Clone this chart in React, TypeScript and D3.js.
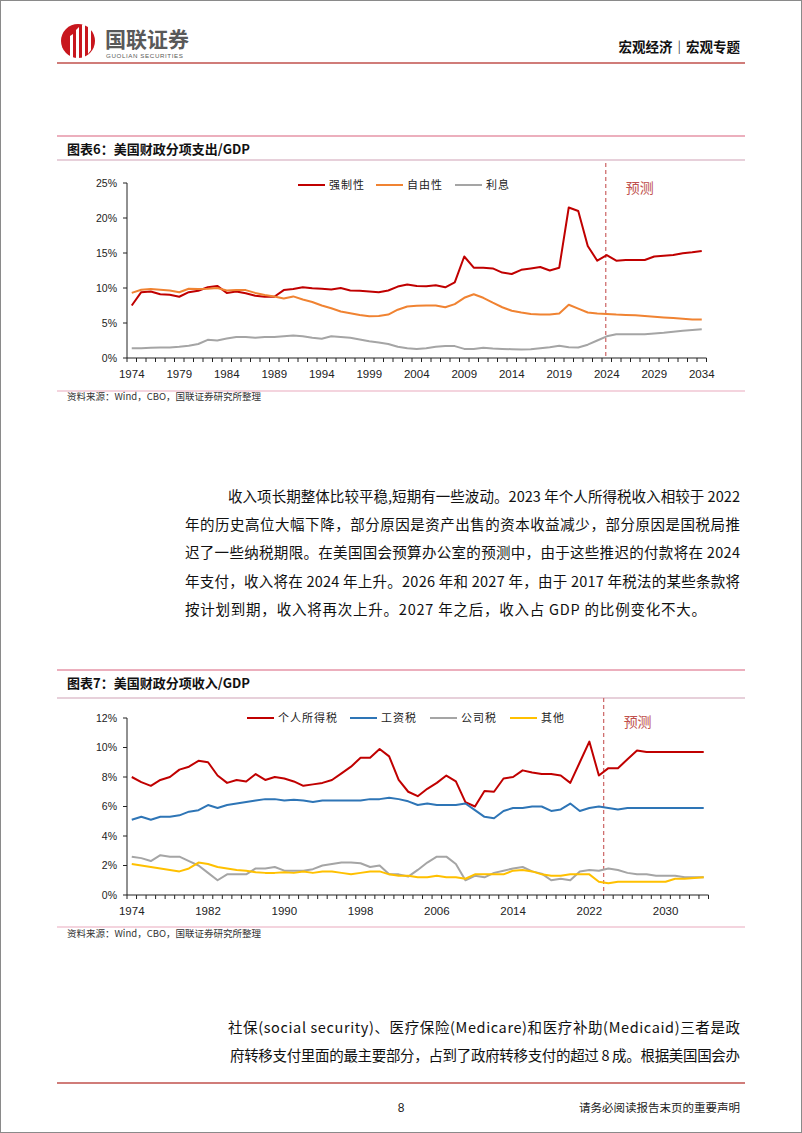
import React from 'react';
import * as d3 from 'd3';

// ---------- data ----------
const years: number[] = d3.range(1974, 2035);

// 图表6 美国财政分项支出/GDP (%)
const mandatory = [
  7.5, 9.4, 9.5, 9.1, 9.05, 8.75, 9.4, 9.6, 10.1, 10.3,
  9.3, 9.5, 9.25, 8.9, 8.75, 8.75, 9.7, 9.85, 10.1, 9.95,
  9.9, 9.8, 10.0, 9.65, 9.6, 9.5, 9.4, 9.65, 10.2, 10.5,
  10.3, 10.25, 10.4, 10.1, 10.8, 14.5, 12.9, 12.9, 12.8, 12.2,
  12.0, 12.6, 12.8, 13.0, 12.5, 12.9, 21.5, 21.0, 16.0, 13.9,
  14.7, 13.9, 14.0, 14.0, 14.0, 14.5, 14.6, 14.7, 14.95, 15.1,
  15.3,
];
const discretionary = [
  9.3, 9.75, 9.85, 9.75, 9.65, 9.4, 9.9, 9.85, 9.9, 10.0,
  9.65, 9.7, 9.7, 9.3, 9.0, 8.8, 8.5, 8.8, 8.35, 8.0,
  7.5, 7.1, 6.65, 6.4, 6.15, 5.95, 6.0, 6.2, 6.9, 7.35,
  7.45, 7.5, 7.5, 7.25, 7.7, 8.6, 9.1, 8.6, 7.9, 7.25,
  6.75, 6.5, 6.3, 6.2, 6.2, 6.35, 7.6, 7.05, 6.5, 6.35,
  6.3, 6.2, 6.15, 6.1, 6.0, 5.9, 5.8, 5.7, 5.6, 5.5,
  5.5,
];
const interest = [
  1.4, 1.4, 1.45, 1.5, 1.5, 1.6, 1.75, 2.0, 2.6, 2.5,
  2.8, 3.0, 3.0, 2.9, 3.0, 3.0, 3.1, 3.2, 3.1, 2.9,
  2.75, 3.1, 3.0, 2.9, 2.65, 2.4, 2.2, 2.0, 1.6, 1.4,
  1.3, 1.4, 1.6, 1.7, 1.7, 1.3, 1.3, 1.45, 1.35, 1.3,
  1.25, 1.2, 1.25, 1.4, 1.55, 1.75, 1.55, 1.5, 1.9, 2.5,
  3.1, 3.4, 3.4, 3.4, 3.4, 3.5, 3.6, 3.75, 3.9, 4.0,
  4.1,
];

// 图表7 美国财政分项收入/GDP (%)
const individualTax = [
  8.0, 7.65, 7.4, 7.8, 8.0, 8.5, 8.7, 9.1, 9.0, 8.1,
  7.6, 7.8, 7.7, 8.2, 7.8, 8.0, 7.9, 7.7, 7.4, 7.5,
  7.6, 7.8, 8.25, 8.7, 9.3, 9.3, 9.9, 9.4, 7.8, 7.0,
  6.7, 7.2, 7.6, 8.1, 7.7, 6.3, 6.0, 7.05, 7.0, 7.9,
  8.0, 8.45, 8.3, 8.2, 8.2, 8.1, 7.6, 9.0, 10.4, 8.1,
  8.6, 8.6, 9.2, 9.8, 9.7, 9.7, 9.7, 9.7, 9.7, 9.7,
  9.7,
];
const payrollTax = [
  5.1, 5.3, 5.1, 5.3, 5.3, 5.4, 5.65, 5.75, 6.1, 5.9,
  6.1, 6.2, 6.3, 6.4, 6.5, 6.5, 6.4, 6.45, 6.4, 6.3,
  6.4, 6.4, 6.4, 6.4, 6.4, 6.5, 6.5, 6.6, 6.5, 6.35,
  6.1, 6.2, 6.1, 6.1, 6.1, 6.2, 5.75, 5.3, 5.2, 5.7,
  5.9, 5.9, 6.0, 6.0, 5.7, 5.8, 6.2, 5.7, 5.9, 6.0,
  5.9, 5.8, 5.9, 5.9, 5.9, 5.9, 5.9, 5.9, 5.9, 5.9,
  5.9,
];
const corporateTax = [
  2.6, 2.5, 2.3, 2.7, 2.6, 2.6, 2.3, 2.0, 1.5, 1.0,
  1.4, 1.4, 1.4, 1.8, 1.8, 1.9, 1.65, 1.65, 1.65, 1.75,
  2.0, 2.1, 2.2, 2.2, 2.15, 1.9, 2.0, 1.4, 1.4, 1.25,
  1.7, 2.2, 2.6, 2.6, 2.1, 1.0, 1.3, 1.2, 1.5, 1.65,
  1.8, 1.9, 1.6, 1.45, 1.0, 1.1, 1.0, 1.6, 1.7, 1.65,
  1.8, 1.7, 1.5, 1.4, 1.4, 1.3, 1.3, 1.3, 1.2, 1.2,
  1.2,
];
const otherRevenue = [
  2.1, 2.0, 1.9, 1.8, 1.7, 1.6, 1.8, 2.2, 2.1, 1.9,
  1.8, 1.7, 1.65, 1.55, 1.5, 1.5, 1.55, 1.5, 1.6, 1.5,
  1.6, 1.6, 1.5, 1.4, 1.5, 1.6, 1.6, 1.4, 1.3, 1.3,
  1.2, 1.2, 1.3, 1.2, 1.2, 1.1, 1.4, 1.4, 1.4, 1.4,
  1.65, 1.7, 1.6, 1.4, 1.3, 1.3, 1.4, 1.4, 1.4, 0.9,
  0.8, 0.9, 0.9, 0.9, 0.9, 0.9, 0.9, 1.1, 1.1, 1.15,
  1.2,
];

const chart1Ticks = [0, 5, 10, 15, 20, 25];
const chart1XLabels = [1974, 1979, 1984, 1989, 1994, 1999, 2004, 2009, 2014, 2019, 2024, 2029, 2034];
const chart2Ticks = [0, 2, 4, 6, 8, 10, 12];
const chart2XLabels = [1974, 1982, 1990, 1998, 2006, 2014, 2022, 2030];

const series1 = [
  { name: '强制性', values: mandatory, color: '#c00000' },
  { name: '自由性', values: discretionary, color: '#f08332' },
  { name: '利息', values: interest, color: '#a5a5a5' },
];
const series2 = [
  { name: '个人所得税', values: individualTax, color: '#c00000' },
  { name: '工资税', values: payrollTax, color: '#2e75b6' },
  { name: '公司税', values: corporateTax, color: '#a5a5a5' },
  { name: '其他', values: otherRevenue, color: '#ffc000' },
];

const para1 = [
  '收入项长期整体比较平稳,短期有一些波动。2023 年个人所得税收入相较于 2022',
  '年的历史高位大幅下降，部分原因是资产出售的资本收益减少，部分原因是国税局推',
  '迟了一些纳税期限。在美国国会预算办公室的预测中，由于这些推迟的付款将在 2024',
  '年支付，收入将在 2024 年上升。2026 年和 2027 年，由于 2017 年税法的某些条款将',
  '按计划到期，收入将再次上升。2027 年之后，收入占 GDP 的比例变化不大。',
];
const para2 = [
  '社保(social security)、医疗保险(Medicare)和医疗补助(Medicaid)三者是政',
  '府转移支付里面的最主要部分，占到了政府转移支付的超过 8 成。根据美国国会办',
];

const CJK = '"Noto Sans CJK SC", "Noto Sans", sans-serif';
const NUM = '"Liberation Sans", Arial, sans-serif';

type Series = { name: string; values: number[]; color: string };

function LineChart(props: {
  top: number; title: string; series: Series[]; yMax: number; yTicks: number[];
  yTop: number; yBottom: number; xRight: number; xLabels: number[];
  legendX: number[]; legendY: number; forecastX: number; forecastTextY: number;
  dashTop: number; titleLineY: number; bottomLineY: number; sourceY: number;
}) {
  const p = props;
  const x = d3.scaleLinear().domain([1973.5, 2034.5]).range([127, p.xRight]);
  const y = d3.scaleLinear().domain([0, p.yMax]).range([p.yBottom, p.yTop]);
  const line = d3.line<number>().x((_, i) => x(years[i])).y((d) => y(d));
  const boundaries = d3.range(1973.5, 2035, 1);
  return (
    <g>
      <line x1={57} x2={745} y1={p.top} y2={p.top} stroke="#d9607c" strokeWidth={1.2} />
      <text x={67} y={p.top + 18} fontFamily={CJK} fontWeight="bold" fontSize={13} fill="#111">{p.title}</text>
      <line x1={57} x2={745} y1={p.titleLineY} y2={p.titleLineY} stroke="#cfa2b6" strokeWidth={1.2} />
      {/* y axis */}
      <line x1={127} x2={127} y1={p.yTop} y2={p.yBottom} stroke="#222" strokeWidth={1} />
      {p.yTicks.map((t) => (
        <g key={t}>
          <line x1={123} x2={127} y1={y(t)} y2={y(t)} stroke="#222" />
          <text x={117} y={y(t) + 3.8} textAnchor="end" fontFamily={NUM} fontSize={10.5} fill="#222">{t}%</text>
        </g>
      ))}
      {/* x axis */}
      <line x1={127} x2={p.xRight} y1={p.yBottom} y2={p.yBottom} stroke="#222" strokeWidth={1} />
      {boundaries.map((b) => (
        <line key={b} x1={x(b)} x2={x(b)} y1={p.yBottom} y2={p.yBottom + 4} stroke="#222" />
      ))}
      {p.xLabels.map((yr) => (
        <text key={yr} x={x(yr)} y={p.yBottom + 20} textAnchor="middle" fontFamily={NUM} fontSize={11.5} fill="#222">{yr}</text>
      ))}
      {/* forecast */}
      <line x1={p.forecastX} x2={p.forecastX} y1={p.dashTop} y2={p.yBottom} stroke="#cf6f6f" strokeWidth={1.3} strokeDasharray="4,3" />
      <text x={p.forecastX + 20} y={p.forecastTextY} fontFamily={CJK} fontSize={14} fill="#c0504d">预测</text>
      {/* lines */}
      {p.series.map((s) => (
        <path key={s.name} d={line(s.values) || ''} fill="none" stroke={s.color} strokeWidth={2} strokeLinejoin="round" />
      ))}
      {/* legend */}
      {p.series.map((s, i) => (
        <g key={s.name}>
          <line x1={p.legendX[i]} x2={p.legendX[i] + 27} y1={p.legendY} y2={p.legendY} stroke={s.color} strokeWidth={2} />
          <text x={p.legendX[i] + 31} y={p.legendY + 4} fontFamily={CJK} fontSize={11} letterSpacing={1} fill="#222">{s.name}</text>
        </g>
      ))}
      <line x1={57} x2={745} y1={p.bottomLineY} y2={p.bottomLineY} stroke="#e9aabd" strokeWidth={1.2} />
      <text x={67} y={p.sourceY} fontFamily={CJK} fontSize={9.5} fill="#333">资料来源：Wind，CBO，国联证券研究所整理</text>
    </g>
  );
}

export default function App() {
  const x1 = d3.scaleLinear().domain([1973.5, 2034.5]).range([127, 706.5]);
  const x2 = d3.scaleLinear().domain([1973.5, 2034.5]).range([127, 708.5]);
  return (
    <div style={{ position: 'absolute', left: 0, top: 0 }}>
      <svg width={802} height={1133} style={{ display: 'block', background: '#fff' }}>
        <rect x={0.5} y={0.5} width={801} height={1132} fill="#fff" stroke="#8a8a8a" />
        {/* header */}
        <g>
          <circle cx={78} cy={41} r={17} fill="#c8161d" />
          <path d="M70,58 L70,36 L73,34 L73,58 Z" fill="#fff" />
          <path d="M76,58 L76,30 L79,27 L79,58 Z" fill="#fff" />
          <path d="M82,58 L82,25 L85,22 L85,58 Z" fill="#fff" />
          <path d="M88,54 L88,24 L91,28 L91,50 Z" fill="#fff" />
          <text x={105} y={46.5} fontFamily={CJK} fontWeight="bold" fontSize={21} fill="#595959">国联证券</text>
          <text x={106} y={58} fontFamily={NUM} fontSize={6.2} fill="#595959" letterSpacing={0.6}>GUOLIAN SECURITIES</text>
          <text x={740} y={52} textAnchor="end" fontFamily={CJK} fontWeight="bold" fontSize={13.5} fill="#111">宏观经济｜宏观专题</text>
          <line x1={57} x2={745} y1={63} y2={63} stroke="#c0504d" strokeWidth={1.6} />
        </g>

        <LineChart
          top={136} title="图表6：美国财政分项支出/GDP" series={series1} yMax={25} yTicks={chart1Ticks}
          yTop={183} yBottom={358} xRight={706.5} xLabels={chart1XLabels}
          legendX={[298, 376, 455]} legendY={185} forecastX={x1(2024) - 1} forecastTextY={193}
          dashTop={163} titleLineY={160} bottomLineY={391} sourceY={400}
        />

        {para1.map((t, i) => (
          <text key={i} x={i === 0 ? 228 : 185} y={502 + i * 28.2} fontFamily={CJK} fontSize={14.5} fill="#111"
            textLength={i === 0 ? 512 : i === 4 ? 521 : 555} lengthAdjust="spacing">{t}</text>
        ))}

        <LineChart
          top={670} title="图表7：美国财政分项收入/GDP" series={series2} yMax={12} yTicks={chart2Ticks}
          yTop={718} yBottom={895} xRight={708.5} xLabels={chart2XLabels}
          legendX={[247, 350, 430, 510]} legendY={718} forecastX={x2(2023.5)} forecastTextY={727}
          dashTop={698} titleLineY={698} bottomLineY={927} sourceY={937}
        />

        {para2.map((t, i) => (
          <text key={i} x={i === 0 ? 228 : 230} y={1033 + i * 28} fontFamily={CJK} fontSize={14.5} fill="#111"
            textLength={i === 0 ? 512 : 510} lengthAdjust="spacing">{t}</text>
        ))}

        {/* footer */}
        <line x1={57} x2={745} y1={1083} y2={1083} stroke="#c0504d" strokeWidth={1.6} />
        <text x={401} y={1112} textAnchor="middle" fontFamily={NUM} fontSize={12} fill="#222">8</text>
        <text x={740} y={1112} textAnchor="end" fontFamily={CJK} fontSize={11.5} fill="#222">请务必阅读报告末页的重要声明</text>
      </svg>
    </div>
  );
}
